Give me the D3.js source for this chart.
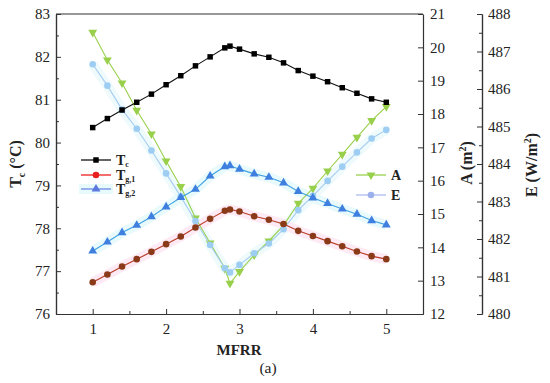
<!DOCTYPE html>
<html>
<head>
<meta charset="utf-8">
<script src="https://cdn.jsdelivr.net/npm/d3@7"></script>
<style>
  body { margin: 0; background: #fff; }
  svg text { font-family: "Times New Roman", "Liberation Serif", Times, serif; fill: #222; }
</style>
</head>
<body>
<div id="chart"></div>
<script>
// MFRR values on the x axis
const mfrr = [1, 1.2, 1.4, 1.6, 1.8, 2.0, 2.2, 2.4, 2.6, 2.8, 2.87, 3.0, 3.2, 3.4, 3.6, 3.8, 4.0, 4.2, 4.4, 4.6, 4.8, 5.0];
// left axis series (°C)
const tc  = [80.35, 80.56, 80.76, 80.94, 81.13, 81.35, 81.56, 81.79, 82.00, 82.21, 82.25, 82.18, 82.07, 81.99, 81.86, 81.68, 81.55, 81.42, 81.28, 81.15, 81.02, 80.94];
const tg1 = [76.74, 76.92, 77.11, 77.28, 77.45, 77.63, 77.81, 78.02, 78.22, 78.41, 78.44, 78.39, 78.28, 78.20, 78.10, 77.94, 77.82, 77.70, 77.58, 77.46, 77.35, 77.28];
const tg2 = [77.47, 77.68, 77.90, 78.07, 78.27, 78.50, 78.72, 78.91, 79.22, 79.44, 79.46, 79.38, 79.27, 79.19, 79.06, 78.86, 78.71, 78.58, 78.45, 78.33, 78.18, 78.08];
// right axes series
const areaA   = [20.45, 19.62, 18.93, 18.11, 17.40, 16.59, 15.82, 14.88, 14.13, 13.37, 12.92, 13.27, 13.77, 14.19, 14.66, 15.32, 15.77, 16.29, 16.79, 17.30, 17.80, 18.22];
const energyE = [486.66, 486.09, 485.45, 484.94, 484.36, 483.75, 483.13, 482.48, 481.84, 481.22, 481.11, 481.31, 481.62, 481.88, 482.26, 482.77, 483.15, 483.55, 483.93, 484.31, 484.68, 484.91];

const xTicks = [1, 2, 3, 4, 5];
const leftTicks = [76, 77, 78, 79, 80, 81, 82, 83];
const aTicks = [12, 13, 14, 15, 16, 17, 18, 19, 20, 21];
const eTicks = [480, 481, 482, 483, 484, 485, 486, 487, 488];

const W = 550, H = 383;
const L = 56, R = 423, T = 14, B = 314, EX = 482;
const FONT = '"Times New Roman", "Liberation Serif", Times, serif';

const svg = d3.select('#chart').append('svg').attr('width', W).attr('height', H);

const x  = d3.scaleLinear([0.5, 5.5], [L, R]);
const yL = d3.scaleLinear([76, 83], [B, T]);
const yA = d3.scaleLinear([12, 21], [B, T]);
const yE = d3.scaleLinear([480, 488], [B, T]);

// frame top
svg.append('line').attr('x1', L).attr('x2', R).attr('y1', T).attr('y2', T)
  .attr('stroke', '#333').attr('stroke-width', 1.2);

function styleAxis(g) {
  g.select('.domain').attr('stroke', '#333').attr('stroke-width', 1.2);
  g.selectAll('.tick line').attr('stroke', '#333');
  g.selectAll('text').attr('font-size', '15px').attr('fill', '#222').attr('font-family', FONT);
}

// x axis (ticks inward)
svg.append('g').attr('transform', `translate(0,${B})`)
  .call(d3.axisBottom(x).tickValues([1.5, 2.5, 3.5, 4.5]).tickSize(-3).tickSizeOuter(0).tickFormat(''))
  .call(styleAxis);
svg.append('g').attr('transform', `translate(0,${B})`)
  .call(d3.axisBottom(x).tickValues(xTicks).tickSize(-5).tickSizeOuter(0).tickPadding(9).tickFormat(d3.format('d')))
  .call(styleAxis);

// left axis
svg.append('g').attr('transform', `translate(${L},0)`)
  .call(d3.axisLeft(yL).tickValues(d3.range(76.5, 83, 1)).tickSize(-3).tickSizeOuter(0).tickFormat(''))
  .call(styleAxis);
svg.append('g').attr('transform', `translate(${L},0)`)
  .call(d3.axisLeft(yL).tickValues(leftTicks).tickSize(-5).tickSizeOuter(0).tickPadding(6).tickFormat(d3.format('d')))
  .call(styleAxis);

// A axis on the right frame
svg.append('g').attr('transform', `translate(${R},0)`)
  .call(d3.axisRight(yA).tickValues(aTicks).tickSize(-5).tickSizeOuter(0).tickPadding(7).tickFormat(d3.format('d')))
  .call(styleAxis);

// E axis offset to the right
svg.append('g').attr('transform', `translate(${EX},0)`)
  .call(d3.axisRight(yE).tickValues(d3.range(480.5, 488, 1)).tickSize(-3).tickSizeOuter(0).tickFormat(''))
  .call(styleAxis);
svg.append('g').attr('transform', `translate(${EX},0)`)
  .call(d3.axisRight(yE).tickValues(eTicks).tickSize(-5).tickSizeOuter(0).tickPadding(6).tickFormat(d3.format('d')))
  .call(styleAxis);

// axis titles
const tTitle = svg.append('text').attr('transform', 'translate(21,164) rotate(-90)')
  .attr('text-anchor', 'middle').attr('font-size', '16px').attr('font-weight', 'bold');
tTitle.append('tspan').text('T');
tTitle.append('tspan').attr('font-size', '10px').attr('dy', 4).text('c');
tTitle.append('tspan').attr('dy', -4).text(' (°C)');

const aTitle = svg.append('text').attr('transform', 'translate(472,163) rotate(-90)')
  .attr('text-anchor', 'middle').attr('font-size', '16px').attr('font-weight', 'bold');
aTitle.append('tspan').text('A (m');
aTitle.append('tspan').attr('font-size', '10px').attr('dy', -6).text('2');
aTitle.append('tspan').attr('dy', 6).text(')');

const eTitle = svg.append('text').attr('transform', 'translate(537,165) rotate(-90)')
  .attr('text-anchor', 'middle').attr('font-size', '16px').attr('font-weight', 'bold');
eTitle.append('tspan').text('E (W/m');
eTitle.append('tspan').attr('font-size', '10px').attr('dy', -6).text('2');
eTitle.append('tspan').attr('dy', 6).text(')');

svg.append('text').attr('x', 239).attr('y', 355).attr('text-anchor', 'middle')
  .attr('font-size', '15px').attr('font-weight', 'bold').text('MFRR');
svg.append('text').attr('x', 268).attr('y', 373).attr('text-anchor', 'middle')
  .attr('font-size', '15.5px').text('(a)');

// series definitions
const series = [
  { key: 'A', vals: areaA, y: yA, line: '#98d04c', fill: '#98d04c', shape: 'triDown', halo: null },
  { key: 'E', vals: energyE, y: yE, line: '#a6cdf0', fill: '#9dcdf2', shape: 'circle', halo: '#eefafc' },
  { key: 'Tc', vals: tc, y: yL, line: '#111', fill: '#000', shape: 'square', halo: null },
  { key: 'Tg1', vals: tg1, y: yL, line: '#b83a25', fill: '#8a3a18', shape: 'circle', halo: '#fdeaf4' },
  { key: 'Tg2', vals: tg2, y: yL, line: '#3ea2e2', fill: '#3f7fe0', shape: 'triUp', halo: '#e9fafc' }
];

const sym = {
  square: d3.symbol(d3.symbolSquare, 30),
  circle: d3.symbol(d3.symbolCircle, 34),
  triUp: d3.symbol(d3.symbolTriangle, 34),
  triDown: d3.symbol(d3.symbolTriangle, 34)
};

// faint halos first, under everything
series.filter(s => s.halo).forEach(s => {
  const pts = mfrr.map((m, i) => [x(m), s.y(s.vals[i])]);
  svg.append('path').attr('d', d3.line()(pts)).attr('fill', 'none')
    .attr('stroke', s.halo).attr('stroke-width', 10);
});

series.forEach(s => {
  const pts = mfrr.map((m, i) => [x(m), s.y(s.vals[i])]);
  const g = svg.append('g');
  g.append('path').attr('d', d3.line()(pts)).attr('fill', 'none')
    .attr('stroke', s.line).attr('stroke-width', 1.1);
  g.selectAll('path.m').data(pts).join('path').attr('class', 'm')
    .attr('d', sym[s.shape])
    .attr('transform', d => `translate(${d[0]},${d[1]})${s.shape === 'triDown' ? ' rotate(180)' : ''}`)
    .attr('fill', s.fill);
});

// legends
function legendItem(lx, ly, s, color, fill, label, sub, halo) {
  const g = svg.append('g');
  if (halo) g.append('rect').attr('x', lx - 2).attr('y', ly - 5).attr('width', 34).attr('height', 10).attr('fill', halo);
  g.append('line').attr('x1', lx).attr('x2', lx + 30).attr('y1', ly).attr('y2', ly)
    .attr('stroke', color).attr('stroke-width', 1.3);
  g.append('path').attr('d', sym[s])
    .attr('transform', `translate(${lx + 15},${ly})${s === 'triDown' ? ' rotate(180)' : ''}`)
    .attr('fill', fill);
  const t = g.append('text').attr('x', lx + 35).attr('y', ly + 4.5)
    .attr('font-size', '14px').attr('font-weight', 'bold');
  t.append('tspan').text(label);
  if (sub) t.append('tspan').attr('font-size', '8px').attr('dy', 2).text(sub);
}
legendItem(81, 160, 'square', '#111', '#000', 'T', 'c');
legendItem(81, 175, 'circle', '#f02020', '#e82020', 'T', 'g,1');
legendItem(81, 189, 'triUp', '#6a8ae6', '#5a78e0', 'T', 'g,2', '#e9fafc');
legendItem(356, 175, 'triDown', '#98d04c', '#98d04c', 'A');
legendItem(356, 195, 'circle', '#aabcf0', '#9db0ec', 'E');
</script>
</body>
</html>
